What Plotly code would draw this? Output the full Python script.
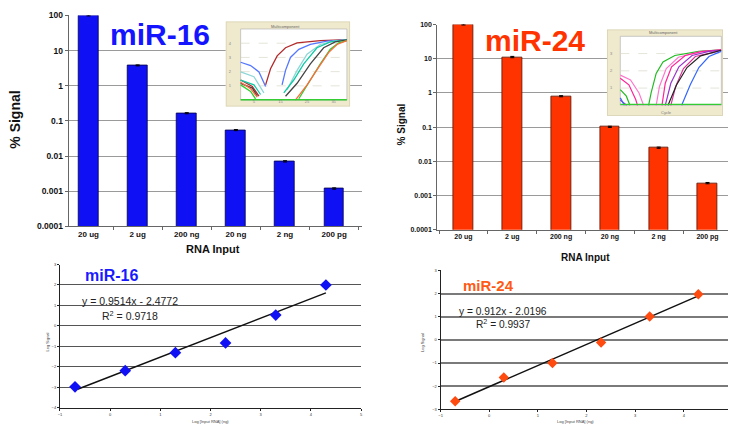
import plotly.graph_objects as go

# ---------------- data ----------------
categories = ["20 ug", "2 ug", "200 ng", "20 ng", "2 ng", "200 pg"]
mir16_signal = [100, 3.8, 0.166, 0.055, 0.0071, 0.0012]
mir16_err = [3, 0.12, 0.006, 0.002, 0.0003, 0.00005]
mir24_signal = [100, 11.2, 0.8, 0.102, 0.025, 0.0023]
mir24_err = [3, 0.5, 0.03, 0.004, 0.001, 0.0001]
y_tickvals = [0.0001, 0.001, 0.01, 0.1, 1, 10, 100]
y_ticktext = ["0.0001", "0.001", "0.01", "0.1", "1", "10", "100"]

log_input = [4.3, 3.3, 2.3, 1.3, 0.3, -0.7]
mir16_log_signal = [2.0, 0.53, -0.83, -1.31, -2.19, -2.98]
mir24_log_signal = [1.97, 1.01, -0.11, -1.0, -1.62, -2.65]
mir16_fit = (0.9514, -2.4772)   # slope, intercept
mir24_fit = (0.912, -2.0196)
mir16_fit_x = [-0.65, 4.3]
mir24_fit_x = [-0.7, 4.3]

# inset amplification curves (cycle, fluorescence)
inset16_curves = [
    ("#b22a2a", [0, 4.4, 6.9, None, 9.4, 11.25, 13.75, 16.9, 21.25, 30, 40],
                [1.41, 0.95, 0.27, None, 1.07, 2.2, 3.11, 3.68, 4.02, 4.18, 4.25]),
    ("#5577ff", [0, 3.75, 6.9, 9.4, None, 15.6, 16.9, 18.75, 21.9, 26.25, 32.5, 40],
                [2.66, 2.43, 1.98, 0.95, None, 1.07, 2.09, 3.0, 3.57, 3.91, 4.14, 4.23]),
    ("#8fd6d6", [0, 5, 8.75, None, 17.5, 21.25, 25, 30, 35, 40],
                [1.98, 1.64, 0.5, None, 0.73, 2.09, 3.23, 3.91, 4.14, 4.23]),
    ("#11c9a5", [0, 5, 7.5, None, 16.25, 20, 23.75, 28.75, 33.75, 40],
                [1.41, 1.07, 0.39, None, 0.5, 1.41, 2.55, 3.68, 4.09, 4.23]),
    ("#444444", [0, 4.4, 6.25, None, 16.9, 21.25, 26.25, 31.25, 35.6, 40],
                [1.18, 0.84, 0.27, None, 0.27, 1.18, 2.55, 3.68, 4.09, 4.23]),
    ("#33cc33", [0, 3.75, 5.6, None, 21.9, 26.25, 30, 33.75, 36.9, 40],
                [1.07, 0.61, 0.09, None, 0.09, 1.41, 2.55, 3.57, 4.02, 4.18]),
    ("#ff6a3d", [0, 3.75, 6.25, None, 20.6, 25, 29.4, 33.1, 36.25, 40],
                [1.25, 0.8, 0.2, None, 0, 1.07, 2.32, 3.34, 3.91, 4.18]),
    ("#33cc33", [0, 40], [0.02, 0.02]),
]
inset24_curves = [
    ("#22bb22", [0, 2.4, 3.8, None, 11.2, 12.2, 14.2, 16.9, 21.6, 31.1, 39.9],
                [0.91, 0.53, 0, None, 0, 0.72, 1.85, 2.51, 2.89, 3.13, 3.21]),
    ("#ff77cc", [0, 4.05, 7.4, 9.2, None, 14.2, 15.5, 18.2, 23, 31.1, 39.9],
                [1.75, 1.47, 0.72, 0, None, 0, 1.09, 2.13, 2.79, 3.09, 3.21]),
    ("#ff2299", [0, 3.4, 6.1, 6.8, None, 16.5, 17.8, 20.3, 25.7, 32.4, 39.9],
                [1.57, 1.19, 0.34, 0, None, 0, 1.28, 2.23, 2.89, 3.13, 3.21]),
    ("#9933cc", [0, 1.5, 2.5, None, 17.8, 20, 23.2, 28.4, 35.1, 39.9],
                [0.3, 0.1, 0, None, 0, 1.28, 2.23, 2.89, 3.13, 3.19]),
    ("#dd3399", [20, 21.9, 25, 29.7, 39.9], [0, 1.09, 2.13, 2.83, 3.17]),
    ("#222222", [18.9, 22.3, 26.4, 31.8, 39.9], [0, 1.19, 2.19, 2.87, 3.19]),
    ("#3366ff", [0, 1.1, 1.6, None, 24.3, 27.7, 31.1, 35.1, 39.9],
                [0.43, 0.15, 0, None, 0, 1.19, 2.19, 2.83, 3.13]),
    ("#33cc33", [0, 40], [0.05, 0.05]),
]

FONT = "Liberation Sans, Arial, sans-serif"
W, H = 730, 431
BLUE = "#1010f5"
ORANGE = "#ff3300"


def px(x):
    return x / W


def py(y):
    return 1 - y / H


fig = go.Figure()

# ---------------- bar charts ----------------
fig.add_trace(go.Bar(
    x=categories, y=mir16_signal, width=0.405,
    marker=dict(color=BLUE, line=dict(color="#000044", width=0.8)),
    error_y=dict(type="data", array=mir16_err, color="black", thickness=1, width=2),
    xaxis="x", yaxis="y", showlegend=False, hoverinfo="skip"))
fig.add_trace(go.Bar(
    x=categories, y=mir24_signal, width=0.4,
    marker=dict(color=ORANGE, line=dict(color="#551100", width=0.8)),
    error_y=dict(type="data", array=mir24_err, color="black", thickness=1, width=2),
    xaxis="x2", yaxis="y2", showlegend=False, hoverinfo="skip"))

# ---------------- scatter charts ----------------
fig.add_trace(go.Scatter(
    x=mir16_fit_x, y=[mir16_fit[0] * v + mir16_fit[1] for v in mir16_fit_x],
    mode="lines", line=dict(color="#111", width=1.5),
    xaxis="x3", yaxis="y3", showlegend=False, hoverinfo="skip"))
fig.add_trace(go.Scatter(
    x=log_input, y=mir16_log_signal, mode="markers",
    marker=dict(symbol="diamond", size=9, color=BLUE),
    xaxis="x3", yaxis="y3", showlegend=False, hoverinfo="skip"))
fig.add_trace(go.Scatter(
    x=mir24_fit_x, y=[mir24_fit[0] * v + mir24_fit[1] for v in mir24_fit_x],
    mode="lines", line=dict(color="#111", width=1.5),
    xaxis="x4", yaxis="y4", showlegend=False, hoverinfo="skip"))
fig.add_trace(go.Scatter(
    x=log_input, y=mir24_log_signal, mode="markers",
    marker=dict(symbol="diamond", size=8, color="#ff4a10"),
    xaxis="x4", yaxis="y4", showlegend=False, hoverinfo="skip"))

# ---------------- insets ----------------
for col, xs, ys in inset16_curves:
    fig.add_trace(go.Scatter(x=xs, y=ys, mode="lines", line=dict(color=col, width=1.3),
                             xaxis="x5", yaxis="y5", showlegend=False, hoverinfo="skip"))
for col, xs, ys in inset24_curves:
    fig.add_trace(go.Scatter(x=xs, y=ys, mode="lines", line=dict(color=col, width=1.2),
                             xaxis="x6", yaxis="y6", showlegend=False, hoverinfo="skip"))

bar_x_common = dict(type="category", categoryorder="array", categoryarray=categories,
                    showline=True, linecolor="#666", linewidth=1, ticks="outside",
                    tickson="boundaries", ticklen=3, tickcolor="#666", showgrid=False,
                    fixedrange=True)
bar_y_common = dict(type="log", range=[-4, 2], tickmode="array", tickvals=y_tickvals,
                    ticktext=y_ticktext, showgrid=True, gridcolor="#9a9a9a", gridwidth=1,
                    showline=True, linecolor="#666", ticks="outside", ticklen=3,
                    tickcolor="#666", zeroline=False, fixedrange=True)

sc_x_common = dict(range=[-1, 5], dtick=1, showgrid=False, showline=True, linecolor="#222",
                   linewidth=1, ticks="outside", ticklen=2, tickcolor="#222", zeroline=False,
                   tickfont=dict(size=4, color="#333"), fixedrange=True)
sc_y_common = dict(dtick=1, showgrid=False, showline=True, linecolor="#222", linewidth=1,
                   ticks="outside", ticklen=2, tickcolor="#222", zeroline=False,
                   tickfont=dict(size=4, color="#333"), fixedrange=True)

inset_common = dict(showgrid=False, zeroline=False, showline=False, ticks="",
                    ticklabelposition="inside", tickfont=dict(size=4, color="#888"),
                    fixedrange=True)

fig.update_layout(
    width=W, height=H, margin=dict(l=0, r=0, t=0, b=0),
    paper_bgcolor="white", plot_bgcolor="white",
    font=dict(family=FONT, color="#111"),
    bargap=0,
    xaxis=dict(domain=[px(67), px(362)], range=[-0.405, 5.567], anchor="y",
               tickfont=dict(size=8, weight="bold"), **bar_x_common),
    yaxis=dict(domain=[py(226.7), py(10.7)], anchor="x",
               tickfont=dict(size=8.5, weight="bold"), **bar_y_common),
    xaxis2=dict(domain=[px(437.7), 1.0], range=[-0.536, 5.42], anchor="y2",
                tickfont=dict(size=7, weight="bold"), **bar_x_common),
    yaxis2=dict(domain=[py(230), py(20)], anchor="x2",
                tickfont=dict(size=7, weight="bold"), **bar_y_common),
    xaxis3=dict(domain=[px(58.3), px(361)], anchor="y3", **sc_x_common),
    yaxis3=dict(domain=[py(412.3), py(265.7)], range=[-4, 3], anchor="x3",
                minor=dict(tickmode="array", tickvals=[-3, -2, -1, 0, 1, 2], showgrid=True,
                           gridcolor="#555", gridwidth=1.2, ticks=""),
                **sc_y_common),
    xaxis4=dict(domain=[px(441), 1.0], anchor="y4", **{**sc_x_common, "range": [-1, 4.91]}),
    yaxis4=dict(domain=[py(414), py(271.7)], range=[-3, 3], anchor="x4",
                minor=dict(tickmode="array", tickvals=[-2, -1, 0, 1, 2], showgrid=True,
                           gridcolor="#7a7a7a", gridwidth=1.5, ticks=""),
                **sc_y_common),
    xaxis5=dict(domain=[px(225), px(350)], range=[-5.6, 41.2], anchor="y5",
                tickvals=[5, 15, 25, 35], **inset_common),
    yaxis5=dict(domain=[py(104), py(17)], range=[-0.46, 5.52], anchor="x5",
                tickvals=[1, 2, 3, 4], **inset_common),
    xaxis6=dict(domain=[px(608.3), px(725)], range=[-5.28, 40.67], anchor="y6",
                showticklabels=False, **inset_common),
    yaxis6=dict(domain=[py(113.3), py(25)], range=[-0.6, 4.4], anchor="x6",
                tickvals=[1, 2, 3], **inset_common),
)

# inset backgrounds (drawn in the inset subplot layer, above the bar-chart grid)
shapes = []
for xr, yr, xrange_, yrange_, top, grid_vals in [
    ("x5", "y5", (-5.6, 41.2), (-0.46, 5.52), 5.0, [1, 2, 3, 4]),
    ("x6", "y6", (-5.28, 40.67), (-0.6, 4.4), 4.0, [1, 2, 3]),
]:
    shapes.append(dict(type="rect", xref=xr, yref=yr, x0=xrange_[0], x1=xrange_[1],
                       y0=yrange_[0], y1=yrange_[1], fillcolor="#efe9cd",
                       line=dict(color="#d6cfae", width=1.5), layer="below"))
    shapes.append(dict(type="rect", xref=xr, yref=yr, x0=0, x1=40, y0=0, y1=top,
                       fillcolor="white", line=dict(color="#aaa", width=0.6), layer="below"))
    for g in grid_vals:
        shapes.append(dict(type="line", xref=xr, yref=yr, x0=0, x1=40, y0=g, y1=g,
                           line=dict(color="#d8d8c8", width=0.7, dash="dash"), layer="below"))
fig.update_layout(shapes=shapes)


def ann(text, x, y, size, color="#111", bold=False, angle=0):
    return dict(text=text, x=px(x), y=py(y), xref="paper", yref="paper",
                showarrow=False, textangle=angle, xanchor="center", yanchor="middle",
                font=dict(family=FONT, size=size, color=color,
                          weight="bold" if bold else "normal"))


fig.update_layout(annotations=[
    ann("miR-16", 158.7, 30, 30, "#1414ff", True),
    ann("miR-24", 536.3, 36, 30, ORANGE, True),
    ann("% Signal", 13.5, 117, 14, "#111", True, -90),
    ann("% Signal", 402, 122.5, 10, "#111", True, -90),
    ann("RNA Input", 211.7, 249.5, 11, "#111", True),
    ann("RNA Input", 586.7, 258.5, 10, "#111", True),
    ann("miR-16", 110.5, 277.2, 16, "#1a1aff", True),
    ann("miR-24", 488.7, 286.7, 15, "#ff5a14", True),
    ann("y = 0.9514x - 2.4772", 128.3, 302.7, 10.5, "#222"),
    ann("R<sup>2</sup> = 0.9718", 128.8, 317.7, 10.5, "#222"),
    ann("y = 0.912x - 2.0196", 503.7, 313.3, 10.2, "#222"),
    ann("R<sup>2</sup> = 0.9937", 503.7, 326.7, 10.2, "#222"),
    ann("Log Signal", 46.7, 345, 4, "#444", False, -90),
    ann("Log Signal", 423.3, 345, 4, "#444", False, -90),
    ann("Log [Input RNA] (ng)", 210, 426.5, 4, "#444"),
    ann("Log [Input RNA] (ng)", 577, 426.5, 4, "#444"),
    ann("Multicomponent", 285, 21.5, 4, "#666"),
    ann("Multicomponent", 665, 28.3, 4, "#666"),
    ann("Cycle", 668, 110.5, 4, "#777"),
])

fig.write_html("out.html", config={"displayModeBar": False},
               post_script="document.body.style.margin='0';")
